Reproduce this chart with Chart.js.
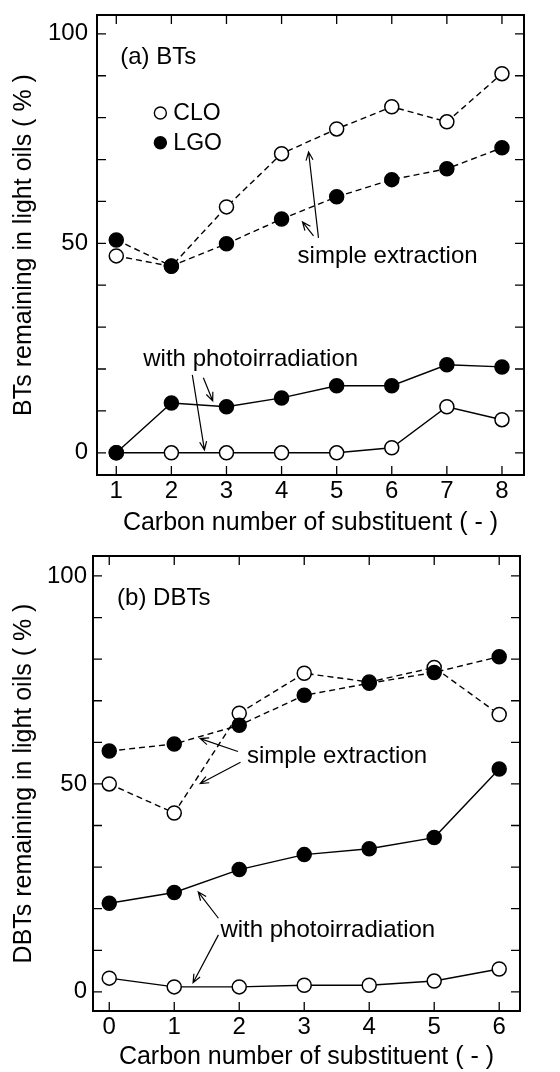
<!DOCTYPE html>
<html>
<head>
<meta charset="utf-8">
<script src="https://cdn.jsdelivr.net/npm/chart.js"></script>
<style>
body{margin:0;background:#fff}
.panel{position:absolute;left:0;width:560px}
#p1{top:0;height:540px}
#p2{top:540px;height:532px}
</style>
</head>
<body>
<div class="panel" id="p1"><canvas id="chartA"></canvas></div>
<div class="panel" id="p2"><canvas id="chartB"></canvas></div>
<script>
// (a) BTs
const carbonBT = [1, 2, 3, 4, 5, 6, 7, 8]
const btCloSimple = [47, 44.5, 58.7, 71.4, 77.3, 82.6, 79, 90.5]
const btLgoSimple = [50.8, 44.6, 49.9, 55.8, 61.1, 65.2, 67.8, 72.8]
const btCloPhoto = [0, 0, 0, 0, 0, 1.2, 11, 7.9]
const btLgoPhoto = [0, 11.9, 11, 13.1, 16, 16, 21, 20.5]

// (b) DBTs
const carbonDBT = [0, 1, 2, 3, 4, 5, 6]
const dbtCloSimple = [50, 43, 67, 76.6, 74.5, 78, 66.7]
const dbtLgoSimple = [57.9, 59.6, 64.1, 71.3, 74.2, 76.8, 80.6]
const dbtCloPhoto = [3.3, 1.2, 1.2, 1.6, 1.6, 2.6, 5.5]
const dbtLgoPhoto = [21.3, 23.9, 29.4, 33, 34.4, 37.1, 53.6]

const yTicks = [0, 50, 100]
const yMinor = [0, 10, 20, 30, 40, 50, 60, 70, 80, 90, 100]

const FONT = "'Liberation Sans', Arial, sans-serif"

function series(xs, ys, filled, dashed){
    return {
        data: xs.map((x, i) => ({x: x, y: ys[i]})),
        borderColor: '#000',
        borderWidth: 1.4,
        borderDash: dashed ? [6, 4] : [],
        pointRadius: 7,
        pointBorderWidth: 1.5,
        pointBorderColor: '#000',
        pointBackgroundColor: filled ? '#000' : '#fff',
        tension: 0,
        clip: false,
        order: filled ? 0 : 1
    }
}

function arrow(ctx, x1, y1, x2, y2){
    ctx.beginPath()
    ctx.moveTo(x1, y1)
    ctx.lineTo(x2, y2)
    const a = Math.atan2(y2 - y1, x2 - x1)
    const L = 9
    ctx.moveTo(x2 - L * Math.cos(a - 0.4), y2 - L * Math.sin(a - 0.4))
    ctx.lineTo(x2, y2)
    ctx.lineTo(x2 - L * Math.cos(a + 0.4), y2 - L * Math.sin(a + 0.4))
    ctx.stroke()
}

//frame, inward ticks, legend and notes
function decor(cfg){
    return {
        id: 'decor',
        beforeDatasetsDraw(chart){
            const ctx = chart.ctx
            const a = chart.chartArea
            const xs = chart.scales.x, ys = chart.scales.y
            ctx.save()
            ctx.strokeStyle = '#000'
            ctx.lineWidth = 1.3
            ctx.beginPath()
            cfg.xTicks.forEach(v => {
                const px = xs.getPixelForValue(v)
                ctx.moveTo(px, a.bottom); ctx.lineTo(px, a.bottom - 9)
                ctx.moveTo(px, a.top); ctx.lineTo(px, a.top + 9)
            })
            yMinor.forEach(v => {
                const py = ys.getPixelForValue(v)
                ctx.moveTo(a.left, py); ctx.lineTo(a.left + 9, py)
                ctx.moveTo(a.right, py); ctx.lineTo(a.right - 9, py)
            })
            ctx.stroke()
            ctx.lineWidth = 2
            ctx.strokeRect(a.left, a.top, a.right - a.left, a.bottom - a.top)
            ctx.restore()
        },
        afterDatasetsDraw(chart){
            const ctx = chart.ctx
            const xs = chart.scales.x, ys = chart.scales.y
            const X = v => xs.getPixelForValue(v)
            const Y = v => ys.getPixelForValue(v)
            ctx.save()
            ctx.fillStyle = '#000'
            ctx.strokeStyle = '#000'
            ctx.textBaseline = 'middle'
            ctx.textAlign = 'left'
            ctx.font = '24px ' + FONT
            ctx.fillText(cfg.label[0], X(cfg.label[1]), Y(cfg.label[2]))
            cfg.texts.forEach(t => ctx.fillText(t[0], X(t[1]), Y(t[2])))
            ctx.lineWidth = 1.2
            cfg.arrows.forEach(r => arrow(ctx, X(r[0]), Y(r[1]), X(r[2]), Y(r[3])))
            if(cfg.legend){
                ctx.font = '23px ' + FONT
                cfg.legend.forEach(l => {
                    const px = X(l.x), py = Y(l.y)
                    ctx.beginPath()
                    ctx.arc(px, py, 6, 0, Math.PI * 2)
                    ctx.fillStyle = l.filled ? '#000' : '#fff'
                    ctx.fill()
                    ctx.lineWidth = 1.4
                    ctx.stroke()
                    ctx.fillStyle = '#000'
                    ctx.fillText(l.text, px + 13, py + 1)
                })
            }
            ctx.restore()
        }
    }
}

function makeChart(el, cfg){
    const font = {family: FONT, size: 24}
    return new Chart(el, {
        type: 'line',
        data: {
            datasets: [
                series(cfg.xs, cfg.cloSimple, false, true),
                series(cfg.xs, cfg.lgoSimple, true, true),
                series(cfg.xs, cfg.cloPhoto, false, false),
                series(cfg.xs, cfg.lgoPhoto, true, false)
            ]
        },
        options: {
            responsive: true,
            maintainAspectRatio: false,
            animation: false,
            layout: {padding: {top: cfg.top, right: cfg.right, left: 0, bottom: 0}},
            plugins: {legend: {display: false}, tooltip: {enabled: false}},
            scales: {
                x: {
                    type: 'linear', min: cfg.xMin, max: cfg.xMax,
                    grid: {display: false, drawTicks: false},
                    border: {display: false},
                    ticks: {font: font, color: '#000', padding: 2},
                    afterBuildTicks: s => { s.ticks = cfg.xs.map(v => ({value: v})) },
                    afterFit: s => { s.height = cfg.xHeight; s.paddingLeft = 0; s.paddingRight = 0 },
                    title: {display: true, text: 'Carbon number of substituent ( - )', font: {family: FONT, size: 25}, color: '#000', padding: {top: 0, bottom: cfg.titlePad}}
                },
                y: {
                    min: cfg.yMin, max: cfg.yMax,
                    grid: {display: false, drawTicks: false},
                    border: {display: false},
                    ticks: {font: font, color: '#000', padding: cfg.yPad},
                    afterBuildTicks: s => { s.ticks = yTicks.map(v => ({value: v})) },
                    afterFit: s => { s.width = cfg.yWidth; s.paddingTop = 0; s.paddingBottom = 0 },
                    title: {display: true, text: cfg.yTitle, font: {family: FONT, size: 25}, color: '#000', padding: {top: 9, bottom: 0}}
                }
            }
        },
        plugins: [decor(cfg)]
    })
}

makeChart(document.querySelector('#chartA'), {
    xs: carbonBT, xTicks: carbonBT,
    cloSimple: btCloSimple, lgoSimple: btLgoSimple, cloPhoto: btCloPhoto, lgoPhoto: btLgoPhoto,
    xMin: 0.65, xMax: 8.4, yMin: -5.3, yMax: 104.5,
    top: 15, right: 36, xHeight: 65, yWidth: 97, yPad: 9, titlePad: 2,
    yTitle: 'BTs remaining in light oils ( % )',
    label: ['(a) BTs', 1.07, 94.5],
    legend: [
        {x: 1.8, y: 81.1, filled: false, text: 'CLO'},
        {x: 1.8, y: 74, filled: true, text: 'LGO'}
    ],
    texts: [
        ['simple extraction', 4.29, 47],
        ['with photoirradiation', 1.49, 22.2]
    ],
    arrows: [
        [4.67, 51.3, 4.49, 71.8],
        [4.58, 51.8, 4.38, 55.1],
        [2.58, 17.9, 2.75, 12.4],
        [2.38, 18.6, 2.6, 0.7]
    ]
})

makeChart(document.querySelector('#chartB'), {
    xs: carbonDBT, xTicks: carbonDBT,
    cloSimple: dbtCloSimple, lgoSimple: dbtLgoSimple, cloPhoto: dbtCloPhoto, lgoPhoto: dbtLgoPhoto,
    xMin: -0.25, xMax: 6.32, yMin: -4.6, yMax: 104.8,
    top: 16, right: 40, xHeight: 61, yWidth: 93, yPad: 6, titlePad: 0,
    yTitle: 'DBTs remaining in light oils ( % )',
    label: ['(b) DBTs', 0.12, 94.7],
    legend: null,
    texts: [
        ['simple extraction', 2.12, 56.6],
        ['with photoirradiation', 1.71, 14.9]
    ],
    arrows: [
        [1.98, 57.8, 1.4, 60.9],
        [2.02, 55.2, 1.4, 50.1],
        [1.68, 17.7, 1.37, 24],
        [1.68, 13.7, 1.29, 2.2]
    ]
})
</script>
</body>
</html>
